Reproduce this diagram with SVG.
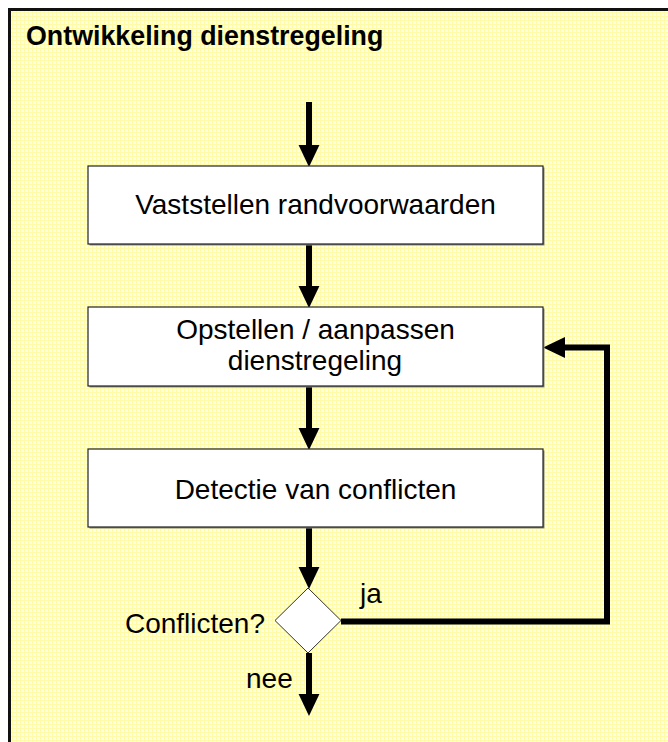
<svg xmlns="http://www.w3.org/2000/svg" width="668" height="742" viewBox="0 0 668 742">
  <style>
    .frame { fill: url(#grid); stroke: #111; stroke-width: 3; }
    .box { fill: #fff; stroke: #222; stroke-width: 1.2; }
    .shadow { fill: #8a8a8a; }
    .dia { fill: #fff; stroke: #333; stroke-width: 1; }
    .conn { fill: none; stroke: #000; stroke-width: 6; stroke-linejoin: miter; marker-end: url(#head); }
    text { font-family: "Liberation Sans", Arial, sans-serif; fill: #000; }
    .lbl { font-size: 28px; text-anchor: middle; }
    .side { font-size: 28px; }
    .title { font-size: 26.8px; font-weight: bold; }
  </style>
  <defs>
    <pattern id="grid" width="4" height="4" patternUnits="userSpaceOnUse">
      <rect width="4" height="4" fill="#FFFFE2"/>
      <path d="M0,0.5 H4 M0.5,0 V4" stroke="#FFFBA6" stroke-width="1"/>
    </pattern>
    <marker id="head" markerUnits="userSpaceOnUse" markerWidth="22" markerHeight="22" viewBox="0 0 21 20" refX="2" refY="10" orient="auto">
      <path d="M0,0 L21,10 L0,20 z" fill="#000"/>
    </marker>
  </defs>

  <rect class="frame" x="9.5" y="9.5" width="680" height="760"/>

  <g id="title">
    <text class="title" x="26" y="45">Ontwikkeling dienstregeling</text>
  </g>

  <g id="connectors">
    <line class="conn" x1="309" y1="102" x2="309" y2="147"/>
    <line class="conn" x1="309" y1="244" x2="309" y2="288"/>
    <line class="conn" x1="309" y1="386" x2="309" y2="430"/>
    <line class="conn" x1="309" y1="527" x2="309" y2="569"/>
    <line class="conn" x1="309" y1="653" x2="309" y2="696"/>
    <path class="conn" d="M341,621.5 H607 V347.5 H563"/>
  </g>

  <g id="box-randvoorwaarden">
    <rect class="shadow" x="89.5" y="167.5" width="455" height="78"/>
    <rect class="box" x="88" y="166" width="455" height="78"/>
    <text class="lbl" x="315.5" y="214">Vaststellen randvoorwaarden</text>
  </g>

  <g id="box-opstellen">
    <rect class="shadow" x="89.5" y="308.5" width="455" height="79"/>
    <rect class="box" x="88" y="307" width="455" height="79"/>
    <text class="lbl" x="315.5" y="339">Opstellen / aanpassen</text>
    <text class="lbl" x="315" y="370">dienstregeling</text>
  </g>

  <g id="box-detectie">
    <rect class="shadow" x="89.5" y="450.5" width="455" height="78"/>
    <rect class="box" x="88" y="449" width="455" height="78"/>
    <text class="lbl" x="315.5" y="499">Detectie van conflicten</text>
  </g>

  <g id="decision">
    <polygon class="dia" points="308,588 341,620.5 308,653 275,620.5"/>
    <text class="side" x="265" y="633" text-anchor="end">Conflicten?</text>
  </g>

  <g id="labels">
    <text class="side" x="360" y="603">ja</text>
    <text class="side" x="246" y="688">nee</text>
  </g>
</svg>
